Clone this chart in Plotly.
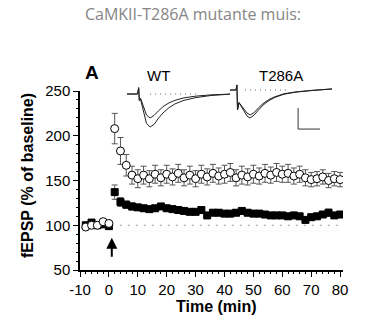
import plotly.graph_objects as go

# ---------------- data ----------------
base_t = [-8, -6, -4, -2, 0]
wt_base = [98, 100, 100, 104, 102]
mut_base = [100, 103, 100, 101, 99]

post_t = list(range(2, 81, 2))
wt_post = [208, 183, 167, 156, 152, 156, 152, 157, 153, 157, 154, 158, 153, 156, 152, 157,
           154, 158, 155, 157, 159, 153, 156, 154, 157, 155, 158, 156, 159, 157, 158, 155,
           157, 153, 151, 152, 154, 150, 152, 151]
wt_post_err = [17, 15, 12, 10, 10, 10, 9, 10, 9, 10, 9, 10, 9, 10, 9, 10,
               9, 10, 9, 10, 10, 9, 10, 9, 10, 9, 10, 9, 10, 9, 10, 9,
               9, 9, 8, 8, 8, 8, 8, 8]
mut_post = [137, 126, 123, 121, 120, 119, 118, 119, 121, 119, 118, 117, 116, 115, 115, 117,
            111, 114, 114, 113, 113, 114, 116, 114, 113, 113, 112, 111, 111, 111, 110, 111,
            110, 106, 109, 110, 112, 114, 111, 112]
mut_post_err = [8, 5, 4, 4, 3, 3, 3, 3, 3, 3, 3, 3, 3, 3, 3, 3,
                3, 3, 3, 3, 3, 3, 3, 3, 3, 3, 3, 3, 3, 3, 3, 3,
                3, 3, 3, 3, 3, 4, 3, 3]
base_err = [3, 3, 3, 3, 3]

x_ticks = [-10, 0, 10, 20, 30, 40, 50, 60, 70, 80]
x_tick_text = ["-10", "0", "10", "20", "30", "40", "50", "60", "70", "80"]
y_ticks = [50, 100, 150, 200, 250]

# inset example traces (ms, mV)
wt_trace_t = [0, 3.5, 3.9, 4.1, 4.5, 5.5, 6.5, 7.7, 9, 10.5, 12, 14, 16, 19, 23, 28, 35]
wt_trace_ltp = [0, 0, 0.3, -0.3, -0.25, -0.9, -1.4, -1.57, -1.45, -1.15, -0.9, -0.65, -0.47, -0.3, -0.17, -0.07, 0.0]
wt_trace_pre = [0, 0, 0.3, -0.3, -0.2, -0.65, -1.0, -1.14, -1.02, -0.8, -0.6, -0.42, -0.3, -0.18, -0.1, -0.04, 0.0]
mut_trace_t = [0, 2.0, 2.3, 2.5, 3, 4.5, 5.7, 6.7, 8, 9.5, 11, 13, 15, 18, 22, 27, 34]
mut_trace_ltp = [0, 0, 0.24, -0.95, -0.6, -1.0, -1.25, -1.33, -1.2, -0.95, -0.72, -0.5, -0.35, -0.2, -0.1, -0.03, 0.05]
mut_trace_pre = [0, 0, 0.24, -0.95, -0.6, -0.9, -1.1, -1.19, -1.08, -0.85, -0.65, -0.45, -0.32, -0.18, -0.09, -0.02, 0.05]
scale_x = [22.7, 22.7, 30]
scale_y = [-0.86, -1.86, -1.86]

FONT = "Liberation Sans, Arial, Helvetica, sans-serif"

fig = go.Figure()

# invisible trace to host minor-tick overlay axes
fig.add_trace(go.Scatter(x=[-10], y=[50], xaxis="x4", yaxis="y4", mode="markers",
                         marker=dict(opacity=0), showlegend=False, hoverinfo="skip"))

# baseline reference line
fig.add_trace(go.Scatter(x=[1, 80], y=[100, 100], mode="lines",
                         line=dict(color="#9a9a9a", width=1.2, dash="2px,6px"),
                         showlegend=False, hoverinfo="skip"))

# T286A (filled squares)
fig.add_trace(go.Scatter(
    x=base_t + post_t, y=mut_base + mut_post, mode="markers",
    marker=dict(symbol="square", size=7, color="black", line=dict(color="black", width=1)),
    error_y=dict(type="data", array=base_err + mut_post_err, color="#555", thickness=1, width=3),
    showlegend=False))

# WT (open circles)
fig.add_trace(go.Scatter(
    x=base_t + post_t, y=wt_base + wt_post, mode="markers",
    marker=dict(symbol="circle", size=8, color="white", line=dict(color="black", width=1)),
    error_y=dict(type="data", array=base_err + wt_post_err, color="#555", thickness=1, width=3),
    showlegend=False))

# inset traces WT
for yy in (wt_trace_ltp, wt_trace_pre):
    fig.add_trace(go.Scatter(x=wt_trace_t, y=yy, mode="lines", xaxis="x2", yaxis="y2",
                             line=dict(color="#222", width=1), showlegend=False, hoverinfo="skip"))
fig.add_trace(go.Scatter(x=[7.7, 24], y=[0, 0], mode="lines", xaxis="x2", yaxis="y2",
                         line=dict(color="#666", width=1, dash="1px,4px"), showlegend=False))
# inset traces T286A
for yy in (mut_trace_ltp, mut_trace_pre):
    fig.add_trace(go.Scatter(x=mut_trace_t, y=yy, mode="lines", xaxis="x3", yaxis="y3",
                             line=dict(color="#222", width=1), showlegend=False, hoverinfo="skip"))
fig.add_trace(go.Scatter(x=[5, 20], y=[0, 0], mode="lines", xaxis="x3", yaxis="y3",
                         line=dict(color="#666", width=1, dash="1px,4px"), showlegend=False))
fig.add_trace(go.Scatter(x=scale_x, y=scale_y, mode="lines", xaxis="x3", yaxis="y3",
                         line=dict(color="#333", width=1), showlegend=False))

L, R, T, B = 80, 35, 80, 52
W, H = 378, 322
pw, ph = W - L - R, H - T - B

X_RANGE = [-10, 81]
Y_RANGE = [50, 250]
Y_DOMAIN = [0, 179 / ph]

inset_y_domain = [(270 - 135) / ph, 1.0]
hidden = dict(visible=False, showgrid=False, zeroline=False)

fig.update_layout(
    width=W, height=H, margin=dict(l=L, r=R, t=T, b=B),
    paper_bgcolor="white", plot_bgcolor="white",
    font=dict(family=FONT, color="black", size=15),
    title=dict(text="CaMKII-T286A mutante muis:", x=193 / W, xanchor="center",
               y=1 - 14 / H, yanchor="middle",
               font=dict(family="Open Sans, sans-serif", size=16, color="#858585")),
    xaxis=dict(range=X_RANGE, tickmode="array", tickvals=x_ticks, ticktext=x_tick_text,
               ticks="outside", ticklen=5, tickwidth=1.3, tickcolor="black",
               showline=True, linecolor="black", linewidth=1.5, showgrid=False, zeroline=False,
               tickfont=dict(size=15, family=FONT)),
    yaxis=dict(range=Y_RANGE, domain=Y_DOMAIN, tickmode="array", tickvals=y_ticks,
               ticks="outside", ticklen=5, tickwidth=1.3, tickcolor="black", showline=True,
               linecolor="black", linewidth=1.5, showgrid=False, zeroline=False,
               tickfont=dict(size=15, family=FONT)),
    # minor tick overlay axes
    xaxis4=dict(range=X_RANGE, overlaying="x", anchor="y4", side="bottom",
                tickmode="linear", tick0=-10, dtick=2, ticks="outside", ticklen=3,
                tickwidth=1, tickcolor="black", showticklabels=False, showline=False,
                showgrid=False, zeroline=False),
    yaxis4=dict(range=Y_RANGE, domain=Y_DOMAIN, overlaying="y", anchor="x4", side="left",
                tickmode="linear", tick0=50, dtick=10, ticks="outside", ticklen=3,
                tickwidth=1, tickcolor="black", showticklabels=False, showline=False,
                showgrid=False, zeroline=False),
    xaxis2=dict(domain=[(127 - L) / pw, (232 - L) / pw], range=[0, 35], anchor="y2", **hidden),
    yaxis2=dict(domain=inset_y_domain, range=[-1.95, 0.667], anchor="x2", **hidden),
    xaxis3=dict(domain=[(230 - L) / pw, (332 - L) / pw], range=[0, 34], anchor="y3", **hidden),
    yaxis3=dict(domain=inset_y_domain, range=[-2.143, 0.476], anchor="x3", **hidden),
    annotations=[
        dict(x=1, y=86, ax=1, ay=63, xref="x", yref="y", axref="x", ayref="y",
             showarrow=True, arrowhead=2, arrowsize=1.1, arrowwidth=2, arrowcolor="black", text=""),
        dict(text="<b>Time (min)</b>", x=(216 - L) / pw, y=(270 - 306) / ph, xref="paper",
             yref="paper", showarrow=False, font=dict(size=16, family=FONT),
             xanchor="center", yanchor="middle"),
        dict(text="<b>fEPSP (% of baseline)</b>", x=(27 - L) / pw, y=(270 - 176) / ph,
             xref="paper", yref="paper", showarrow=False, textangle=-90,
             font=dict(size=16, family=FONT), xanchor="center", yanchor="middle"),
        dict(text="<b>A</b>", x=(92 - L) / pw, y=(270 - 72) / ph, xref="paper", yref="paper",
             showarrow=False, font=dict(size=19, family=FONT), xanchor="center", yanchor="middle"),
        dict(text="WT", x=(158 - L) / pw, y=(270 - 76) / ph, xref="paper", yref="paper",
             showarrow=False, font=dict(size=15, family=FONT), xanchor="center", yanchor="middle"),
        dict(text="T286A", x=(281 - L) / pw, y=(270 - 76) / ph, xref="paper", yref="paper",
             showarrow=False, font=dict(size=15, family=FONT), xanchor="center", yanchor="middle"),
    ],
)

fig.write_html("out.html")
